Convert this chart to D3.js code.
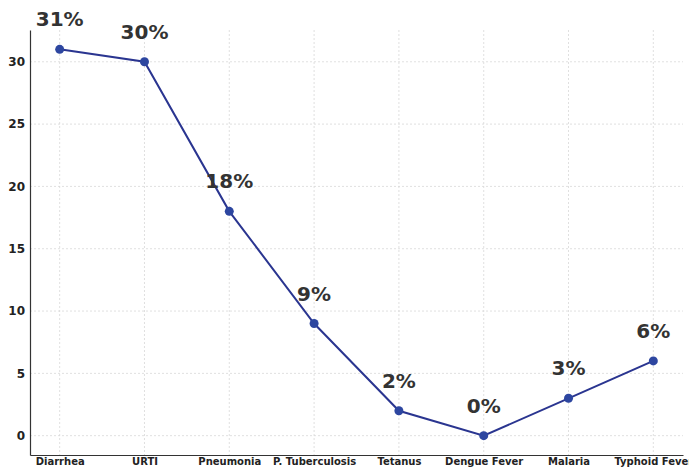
<!DOCTYPE html>
<html>
<head>
<meta charset="utf-8">
<script src="https://cdn.jsdelivr.net/npm/d3@7"></script>
<style>
  body { margin: 0; background: #fff; }
  svg { display: block; font-family: "DejaVu Sans", sans-serif; }
</style>
</head>
<body>
<div id="chart"></div>
<script>
const width = 689, height = 470;
const margin = {top: 30, right: 6, bottom: 15, left: 30};

// data
const diseases = ["Diarrhea", "URTI", "Pneumonia", "P. Tuberculosis", "Tetanus", "Dengue Fever", "Malaria", "Typhoid Fever"];
const percents = [31, 30, 18, 9, 2, 0, 3, 6];
const yTicks = [0, 5, 10, 15, 20, 25, 30];

const svg = d3.select("#chart").append("svg")
    .attr("width", width)
    .attr("height", height);

// index scale with matplotlib-like 5% padding
const x = d3.scaleLinear()
    .domain([-0.35, diseases.length - 1 + 0.35])
    .range([margin.left, width - margin.right]);

const y = d3.scaleLinear()
    .domain([-1.55, 32.55])
    .range([height - margin.bottom, margin.top]);

// grid
svg.append("g")
    .selectAll("line.h")
    .data(yTicks)
    .enter().append("line")
    .attr("x1", margin.left)
    .attr("x2", width - margin.right)
    .attr("y1", d => y(d))
    .attr("y2", d => y(d))
    .attr("stroke", "#d8d8d8")
    .attr("stroke-width", 0.8)
    .attr("stroke-dasharray", "2,2");

svg.append("g")
    .selectAll("line.v")
    .data(diseases)
    .enter().append("line")
    .attr("x1", (d, i) => x(i))
    .attr("x2", (d, i) => x(i))
    .attr("y1", margin.top)
    .attr("y2", height - margin.bottom)
    .attr("stroke", "#d8d8d8")
    .attr("stroke-width", 0.8)
    .attr("stroke-dasharray", "2,2");

// axes
const xAxis = svg.append("g")
    .attr("transform", `translate(0,${height - margin.bottom})`)
    .call(d3.axisBottom(x)
        .tickValues(d3.range(diseases.length))
        .tickFormat(i => diseases[i])
        .tickSize(0)
        .tickPadding(3));
xAxis.select(".domain").attr("stroke", "#333").attr("stroke-width", 1.2);
xAxis.selectAll("text")
    .attr("font-size", 10)
    .attr("font-weight", "bold")
    .attr("fill", "#222")
    .attr("font-family", "DejaVu Sans");

const yAxis = svg.append("g")
    .attr("transform", `translate(${margin.left},0)`)
    .call(d3.axisLeft(y)
        .tickValues(yTicks)
        .tickSize(0)
        .tickPadding(5));
yAxis.select(".domain").attr("stroke", "#333").attr("stroke-width", 1.2);
yAxis.selectAll("text")
    .attr("font-size", 12)
    .attr("font-weight", "bold")
    .attr("fill", "#222")
    .attr("font-family", "DejaVu Sans");

// line
const line = d3.line()
    .x((d, i) => x(i))
    .y(d => y(d));

svg.append("path")
    .datum(percents)
    .attr("fill", "none")
    .attr("stroke", "#2a3590")
    .attr("stroke-width", 2)
    .attr("d", line);

svg.append("g")
    .selectAll("circle")
    .data(percents)
    .enter().append("circle")
    .attr("cx", (d, i) => x(i))
    .attr("cy", d => y(d))
    .attr("r", 4.5)
    .attr("fill", "#2d46a0");

// value labels
svg.append("g")
    .selectAll("text")
    .data(percents)
    .enter().append("text")
    .attr("x", (d, i) => x(i))
    .attr("y", d => y(d) - 23)
    .attr("text-anchor", "middle")
    .attr("font-size", 20)
    .attr("font-weight", "bold")
    .attr("fill", "#333")
    .text(d => d + "%");
</script>
</body>
</html>
